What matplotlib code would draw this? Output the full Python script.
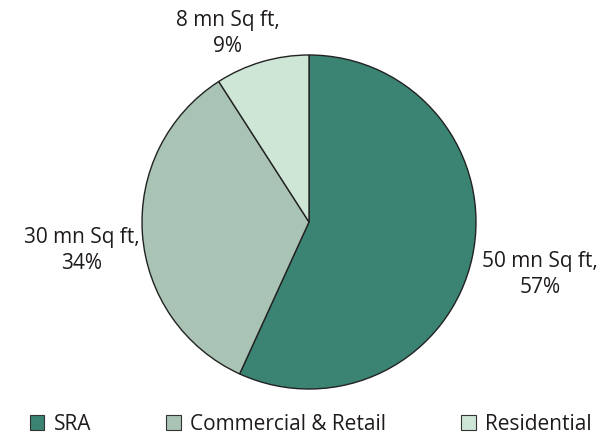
import numpy as np
import matplotlib
matplotlib.use("Agg")
import matplotlib.pyplot as plt
from matplotlib.patches import Patch

categories = ["SRA", "Commercial & Retail", "Residential"]
area_mn_sqft = [50, 30, 8]
colors = ["#3b8373", "#a9c3b4", "#cde6d6"]

plt.rcParams["font.family"] = ["Open Sans", "DejaVu Sans"]

fig = plt.figure(figsize=(6.02, 4.38), dpi=100)
ax = fig.add_axes([142 / 602, 49 / 438, 334 / 602, 334 / 438])

wedges, _ = ax.pie(area_mn_sqft, colors=colors, startangle=90, counterclock=False,
                   radius=1.0, wedgeprops=dict(edgecolor="#222222", linewidth=1.0))
ax.set_xlim(-1, 1)
ax.set_ylim(-1, 1)
ax.set_aspect("equal")

total = sum(area_mn_sqft)
label_dist = [1.42, 1.37, 1.23]
angle_shift = [-0.6, 3.0, 7.0]
for w, v, d, s in zip(wedges, area_mn_sqft, label_dist, angle_shift):
    ang = np.deg2rad((w.theta1 + w.theta2) / 2 + s)
    pct = round(100 * v / total)
    ax.text(d * np.cos(ang), d * np.sin(ang), f"{v} mn Sq ft,\n{pct}%",
            ha="center", va="center", fontsize=15, color="#1f1b1c",
            linespacing=1.3, clip_on=False)

handles = [Patch(facecolor=c, edgecolor="#333333", linewidth=0.8) for c in colors]
fig.legend(handles, categories, loc="lower center", bbox_to_anchor=(0.516, -0.035),
           ncol=3, frameon=False, fontsize=15, handlelength=0.7, handleheight=0.7,
           handletextpad=0.45, columnspacing=3.6, labelcolor="#1f1b1c")

fig.savefig("out.png", dpi=100)
